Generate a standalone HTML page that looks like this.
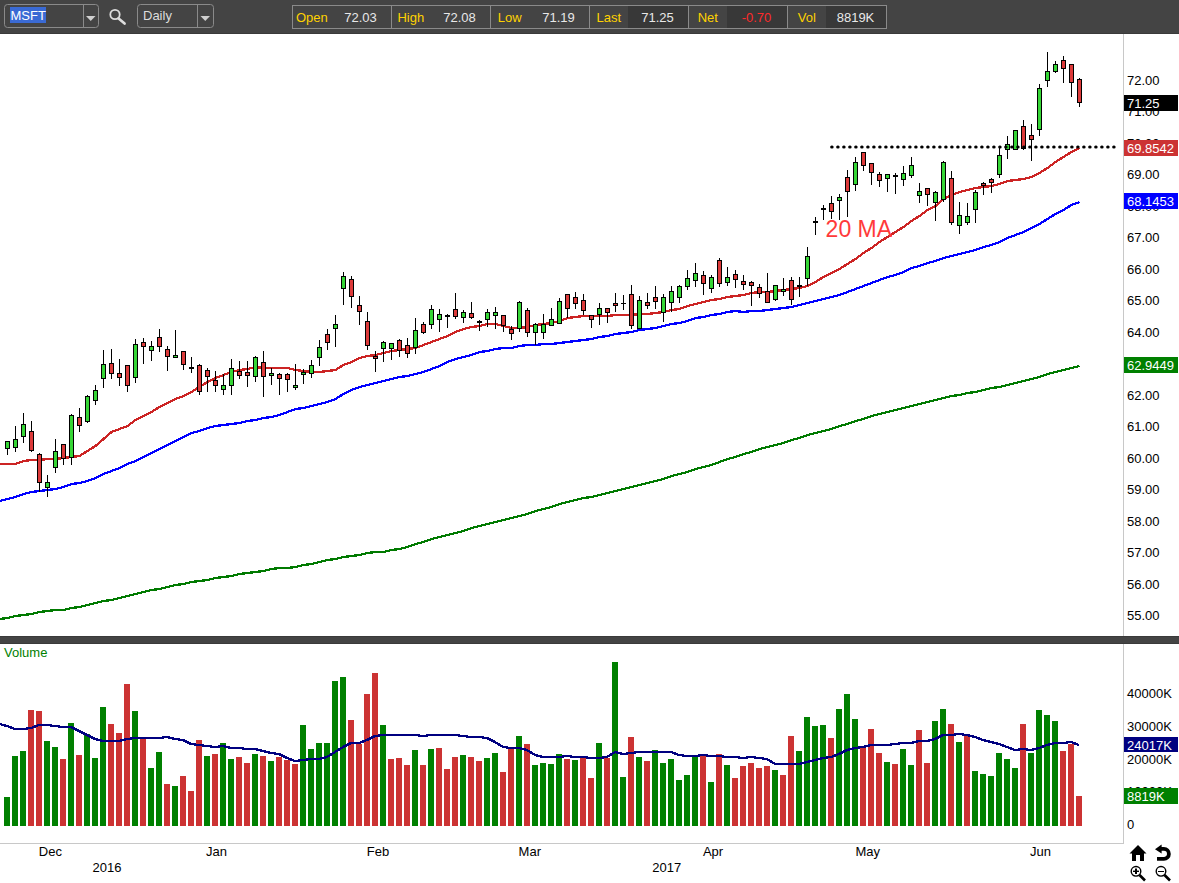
<!DOCTYPE html>
<html><head><meta charset="utf-8"><title>MSFT Daily Chart</title>
<style>
html,body{margin:0;padding:0;background:#fff;}
body{width:1179px;height:883px;overflow:hidden;}
svg text{white-space:pre;}
</style></head><body>
<svg width="1179" height="883" viewBox="0 0 1179 883" style="display:block">
<rect x="0" y="0" width="1179" height="883" fill="#ffffff"/>
<g shape-rendering="crispEdges">
<rect x="0" y="0" width="1179" height="34" fill="#444444"/>
<rect x="0" y="33" width="1179" height="1" fill="#3a3a3a"/>
</g>
<rect x="4.5" y="4.5" width="94" height="23" rx="3" ry="3" fill="none" stroke="#8a8a8a" stroke-width="1"/>
<line x1="83.5" y1="5" x2="83.5" y2="27" stroke="#8a8a8a" stroke-width="1"/>
<polygon points="86,16 95.5,16 90.75,21" fill="#cfcfcf"/>
<rect x="10" y="7" width="36" height="16" fill="#3a6ad4" shape-rendering="crispEdges"/>
<text x="10.5" y="20" font-family="'Liberation Sans', Arial, sans-serif" font-size="13" fill="#ffffff">MSFT</text>
<circle cx="115" cy="14.5" r="4.7" fill="none" stroke="#dddddd" stroke-width="1.8"/>
<line x1="118.6" y1="18.4" x2="124.6" y2="23.6" stroke="#dddddd" stroke-width="2.6" stroke-linecap="round"/>
<rect x="137.5" y="4.5" width="76" height="23" rx="3" ry="3" fill="none" stroke="#8a8a8a" stroke-width="1"/>
<line x1="197.5" y1="5" x2="197.5" y2="27" stroke="#8a8a8a" stroke-width="1"/>
<polygon points="200.5,16 210,16 205.25,21" fill="#cfcfcf"/>
<text x="143" y="20" font-family="'Liberation Sans', Arial, sans-serif" font-size="13" fill="#dddddd">Daily</text>
<g shape-rendering="crispEdges">
<rect x="628" y="6" width="60" height="22" fill="#383838"/>
<rect x="727" y="6" width="60" height="22" fill="#383838"/>
<rect x="826" y="6" width="60" height="22" fill="#383838"/>
<rect x="292.5" y="5.5" width="594" height="23" fill="none" stroke="#8a8a8a"/>
<line x1="391.5" y1="6" x2="391.5" y2="28" stroke="#8a8a8a"/>
<line x1="490.5" y1="6" x2="490.5" y2="28" stroke="#8a8a8a"/>
<line x1="589.5" y1="6" x2="589.5" y2="28" stroke="#8a8a8a"/>
<line x1="688.5" y1="6" x2="688.5" y2="28" stroke="#8a8a8a"/>
<line x1="787.5" y1="6" x2="787.5" y2="28" stroke="#8a8a8a"/>
</g>
<text x="311.8" y="22" text-anchor="middle" font-family="'Liberation Sans', Arial, sans-serif" font-size="13" fill="#ffd200">Open</text>
<text x="360.5" y="22" text-anchor="middle" font-family="'Liberation Sans', Arial, sans-serif" font-size="13" fill="#e8e8e8">72.03</text>
<text x="410.8" y="22" text-anchor="middle" font-family="'Liberation Sans', Arial, sans-serif" font-size="13" fill="#ffd200">High</text>
<text x="459.5" y="22" text-anchor="middle" font-family="'Liberation Sans', Arial, sans-serif" font-size="13" fill="#e8e8e8">72.08</text>
<text x="509.8" y="22" text-anchor="middle" font-family="'Liberation Sans', Arial, sans-serif" font-size="13" fill="#ffd200">Low</text>
<text x="558.5" y="22" text-anchor="middle" font-family="'Liberation Sans', Arial, sans-serif" font-size="13" fill="#e8e8e8">71.19</text>
<text x="608.8" y="22" text-anchor="middle" font-family="'Liberation Sans', Arial, sans-serif" font-size="13" fill="#ffd200">Last</text>
<text x="657.5" y="22" text-anchor="middle" font-family="'Liberation Sans', Arial, sans-serif" font-size="13" fill="#e8e8e8">71.25</text>
<text x="707.8" y="22" text-anchor="middle" font-family="'Liberation Sans', Arial, sans-serif" font-size="13" fill="#ffd200">Net</text>
<text x="756.5" y="22" text-anchor="middle" font-family="'Liberation Sans', Arial, sans-serif" font-size="13" fill="#ff2a2a">-0.70</text>
<text x="806.8" y="22" text-anchor="middle" font-family="'Liberation Sans', Arial, sans-serif" font-size="13" fill="#ffd200">Vol</text>
<text x="855.5" y="22" text-anchor="middle" font-family="'Liberation Sans', Arial, sans-serif" font-size="13" fill="#e8e8e8">8819K</text>
<g shape-rendering="crispEdges">
<rect x="0" y="636" width="1179" height="8" fill="#444444"/>
<rect x="0" y="636" width="1179" height="1" fill="#3a3a3a"/>
<rect x="0" y="643" width="1179" height="1" fill="#3a3a3a"/>
<rect x="1123" y="34" width="1" height="602" fill="#c8c8c8"/>
<rect x="1123" y="644" width="1" height="200" fill="#c8c8c8"/>
<rect x="0" y="843" width="1124" height="1" fill="#c8c8c8"/>
</g>
<text x="1127" y="620.4" font-family="'Liberation Sans', Arial, sans-serif" font-size="13" fill="#000000">55.00</text>
<text x="1127" y="588.9" font-family="'Liberation Sans', Arial, sans-serif" font-size="13" fill="#000000">56.00</text>
<text x="1127" y="557.4" font-family="'Liberation Sans', Arial, sans-serif" font-size="13" fill="#000000">57.00</text>
<text x="1127" y="525.9" font-family="'Liberation Sans', Arial, sans-serif" font-size="13" fill="#000000">58.00</text>
<text x="1127" y="494.4" font-family="'Liberation Sans', Arial, sans-serif" font-size="13" fill="#000000">59.00</text>
<text x="1127" y="462.9" font-family="'Liberation Sans', Arial, sans-serif" font-size="13" fill="#000000">60.00</text>
<text x="1127" y="431.4" font-family="'Liberation Sans', Arial, sans-serif" font-size="13" fill="#000000">61.00</text>
<text x="1127" y="399.9" font-family="'Liberation Sans', Arial, sans-serif" font-size="13" fill="#000000">62.00</text>
<text x="1127" y="368.4" font-family="'Liberation Sans', Arial, sans-serif" font-size="13" fill="#000000">63.00</text>
<text x="1127" y="336.9" font-family="'Liberation Sans', Arial, sans-serif" font-size="13" fill="#000000">64.00</text>
<text x="1127" y="305.4" font-family="'Liberation Sans', Arial, sans-serif" font-size="13" fill="#000000">65.00</text>
<text x="1127" y="273.9" font-family="'Liberation Sans', Arial, sans-serif" font-size="13" fill="#000000">66.00</text>
<text x="1127" y="242.4" font-family="'Liberation Sans', Arial, sans-serif" font-size="13" fill="#000000">67.00</text>
<text x="1127" y="210.9" font-family="'Liberation Sans', Arial, sans-serif" font-size="13" fill="#000000">68.00</text>
<text x="1127" y="179.4" font-family="'Liberation Sans', Arial, sans-serif" font-size="13" fill="#000000">69.00</text>
<text x="1127" y="147.9" font-family="'Liberation Sans', Arial, sans-serif" font-size="13" fill="#000000">70.00</text>
<text x="1127" y="116.4" font-family="'Liberation Sans', Arial, sans-serif" font-size="13" fill="#000000">71.00</text>
<text x="1127" y="84.9" font-family="'Liberation Sans', Arial, sans-serif" font-size="13" fill="#000000">72.00</text>
<polyline points="-0.5,619 7.5,618 15.5,616 23.5,615 31.5,614 39.5,612 47.5,611 55.5,610 63.5,610 71.5,608 79.5,607 87.5,605 95.5,603 103.5,601 111.5,600 119.5,598 127.5,596 135.5,594 143.5,592 151.5,590 159.5,589 167.5,587 175.5,585 183.5,584 191.5,582 199.5,581 207.5,580 215.5,578 223.5,577 231.5,576 239.5,574 247.5,573 255.5,572 263.5,571 271.5,569 279.5,568 287.5,568 295.5,567 303.5,565 311.5,564 319.5,562 327.5,560 335.5,559 343.5,557 351.5,556 359.5,555 367.5,553 375.5,552 383.5,552 391.5,550 399.5,549 407.5,547 415.5,544 423.5,542 431.5,539 439.5,537 447.5,535 455.5,533 463.5,531 471.5,528 479.5,526 487.5,524 495.5,522 503.5,520 511.5,518 519.5,516 527.5,514 535.5,511 543.5,509 551.5,507 559.5,504 567.5,502 575.5,500 583.5,498 591.5,497 599.5,495 607.5,493 615.5,491 623.5,489 631.5,487 639.5,485 647.5,483 655.5,481 663.5,479 671.5,476 679.5,474 687.5,472 695.5,469 703.5,467 711.5,465 719.5,462 727.5,459 735.5,457 743.5,454 751.5,452 759.5,449 767.5,447 775.5,445 783.5,443 791.5,440 799.5,438 807.5,435 815.5,433 823.5,431 831.5,429 839.5,426 847.5,424 855.5,421 863.5,419 871.5,416 879.5,414 887.5,412 895.5,410 903.5,408 911.5,406 919.5,404 927.5,402 935.5,400 943.5,398 951.5,396 959.5,395 967.5,393 975.5,392 983.5,390 991.5,388 999.5,387 1007.5,385 1015.5,383 1023.5,381 1031.5,379 1039.5,377 1047.5,374 1055.5,372 1063.5,370 1071.5,368 1079.5,366" fill="none" stroke="#007a00" stroke-width="2.3" stroke-linejoin="round" shape-rendering="crispEdges"/>
<polyline points="-0.5,501 7.5,499 15.5,497 23.5,494 31.5,492 39.5,491 47.5,490 55.5,489 63.5,487 71.5,484 79.5,483 87.5,481 95.5,478 103.5,474 111.5,471 119.5,468 127.5,464 135.5,461 143.5,457 151.5,453 159.5,449 167.5,445 175.5,441 183.5,437 191.5,433 199.5,431 207.5,428 215.5,426 223.5,425 231.5,424 239.5,423 247.5,421 255.5,420 263.5,418 271.5,417 279.5,415 287.5,412 295.5,409 303.5,408 311.5,406 319.5,404 327.5,402 335.5,399 343.5,394 351.5,390 359.5,387 367.5,385 375.5,383 383.5,381 391.5,379 399.5,377 407.5,376 415.5,374 423.5,372 431.5,369 439.5,366 447.5,362 455.5,359 463.5,357 471.5,355 479.5,352 487.5,351 495.5,349 503.5,348 511.5,348 519.5,346 527.5,345 535.5,345 543.5,344 551.5,344 559.5,343 567.5,342 575.5,341 583.5,340 591.5,339 599.5,337 607.5,336 615.5,334 623.5,333 631.5,332 639.5,330 647.5,329 655.5,328 663.5,326 671.5,324 679.5,323 687.5,321 695.5,318 703.5,317 711.5,315 719.5,314 727.5,312 735.5,311 743.5,312 751.5,311 759.5,311 767.5,310 775.5,309 783.5,308 791.5,307 799.5,305 807.5,303 815.5,301 823.5,299 831.5,297 839.5,295 847.5,292 855.5,289 863.5,286 871.5,283 879.5,280 887.5,277 895.5,275 903.5,272 911.5,268 919.5,266 927.5,263 935.5,261 943.5,258 951.5,256 959.5,254 967.5,252 975.5,250 983.5,247 991.5,245 999.5,242 1007.5,238 1015.5,235 1023.5,232 1031.5,228 1039.5,224 1047.5,219 1055.5,214 1063.5,210 1071.5,205 1079.5,202" fill="none" stroke="#0000ff" stroke-width="2.3" stroke-linejoin="round" shape-rendering="crispEdges"/>
<polyline points="-0.5,464 7.5,464 15.5,464 23.5,461 31.5,460 39.5,460 47.5,459 55.5,459 63.5,458 71.5,457 79.5,456 87.5,451 95.5,446 103.5,439 111.5,432 119.5,429 127.5,426 135.5,420 143.5,416 151.5,412 159.5,407 167.5,403 175.5,399 183.5,396 191.5,392 199.5,387 207.5,382 215.5,378 223.5,375 231.5,372 239.5,370 247.5,369 255.5,367 263.5,368 271.5,368 279.5,368 287.5,368 295.5,370 303.5,371 311.5,372 319.5,372 327.5,371 335.5,370 343.5,365 351.5,362 359.5,358 367.5,356 375.5,355 383.5,353 391.5,351 399.5,350 407.5,349 415.5,348 423.5,345 431.5,342 439.5,339 447.5,336 455.5,332 463.5,329 471.5,327 479.5,326 487.5,324 495.5,324 503.5,326 511.5,328 519.5,328 527.5,327 535.5,325 543.5,324 551.5,323 559.5,321 567.5,318 575.5,317 583.5,316 591.5,316 599.5,316 607.5,316 615.5,315 623.5,315 631.5,315 639.5,314 647.5,314 655.5,313 663.5,312 671.5,310 679.5,309 687.5,306 695.5,304 703.5,302 711.5,300 719.5,299 727.5,297 735.5,296 743.5,295 751.5,293 759.5,292 767.5,292 775.5,291 783.5,290 791.5,289 799.5,288 807.5,286 815.5,282 823.5,277 831.5,273 839.5,269 847.5,264 855.5,259 863.5,253 871.5,248 879.5,242 887.5,237 895.5,232 903.5,227 911.5,221 919.5,216 927.5,210 935.5,206 943.5,199 951.5,195 959.5,192 967.5,190 975.5,188 983.5,187 991.5,186 999.5,184 1007.5,181 1015.5,180 1023.5,179 1031.5,177 1039.5,173 1047.5,168 1055.5,162 1063.5,157 1071.5,152 1079.5,148" fill="none" stroke="#cc2424" stroke-width="2.3" stroke-linejoin="round" shape-rendering="crispEdges"/>
<g shape-rendering="crispEdges">
<rect x="7" y="441" width="1" height="14" fill="#000"/>
<rect x="5" y="441" width="5" height="8" fill="#000"/>
<rect x="6" y="442" width="3" height="6" fill="#36d636"/>
<rect x="15" y="426" width="1" height="26" fill="#000"/>
<rect x="13" y="439" width="5" height="9" fill="#000"/>
<rect x="14" y="440" width="3" height="7" fill="#36d636"/>
<rect x="23" y="413" width="1" height="30" fill="#000"/>
<rect x="21" y="424" width="5" height="13" fill="#000"/>
<rect x="22" y="425" width="3" height="11" fill="#36d636"/>
<rect x="31" y="421" width="1" height="31" fill="#000"/>
<rect x="29" y="431" width="5" height="20" fill="#000"/>
<rect x="30" y="432" width="3" height="18" fill="#dc3a3a"/>
<rect x="39" y="453" width="1" height="39" fill="#000"/>
<rect x="37" y="454" width="5" height="29" fill="#000"/>
<rect x="38" y="455" width="3" height="27" fill="#dc3a3a"/>
<rect x="47" y="475" width="1" height="22" fill="#000"/>
<rect x="45" y="482" width="5" height="6" fill="#000"/>
<rect x="46" y="483" width="3" height="4" fill="#36d636"/>
<rect x="55" y="439" width="1" height="34" fill="#000"/>
<rect x="53" y="451" width="5" height="17" fill="#000"/>
<rect x="54" y="452" width="3" height="15" fill="#36d636"/>
<rect x="63" y="444" width="1" height="21" fill="#000"/>
<rect x="61" y="444" width="5" height="15" fill="#000"/>
<rect x="62" y="445" width="3" height="13" fill="#dc3a3a"/>
<rect x="71" y="414" width="1" height="51" fill="#000"/>
<rect x="69" y="415" width="5" height="43" fill="#000"/>
<rect x="70" y="416" width="3" height="41" fill="#36d636"/>
<rect x="79" y="408" width="1" height="24" fill="#000"/>
<rect x="77" y="417" width="5" height="9" fill="#000"/>
<rect x="78" y="418" width="3" height="7" fill="#dc3a3a"/>
<rect x="87" y="395" width="1" height="28" fill="#000"/>
<rect x="85" y="396" width="5" height="26" fill="#000"/>
<rect x="86" y="397" width="3" height="24" fill="#36d636"/>
<rect x="95" y="385" width="1" height="20" fill="#000"/>
<rect x="93" y="390" width="5" height="11" fill="#000"/>
<rect x="94" y="391" width="3" height="9" fill="#36d636"/>
<rect x="103" y="350" width="1" height="38" fill="#000"/>
<rect x="101" y="364" width="5" height="15" fill="#000"/>
<rect x="102" y="365" width="3" height="13" fill="#36d636"/>
<rect x="111" y="349" width="1" height="30" fill="#000"/>
<rect x="109" y="363" width="5" height="11" fill="#000"/>
<rect x="110" y="364" width="3" height="9" fill="#dc3a3a"/>
<rect x="119" y="359" width="1" height="27" fill="#000"/>
<rect x="117" y="373" width="5" height="5" fill="#000"/>
<rect x="118" y="374" width="3" height="3" fill="#dc3a3a"/>
<rect x="127" y="365" width="1" height="27" fill="#000"/>
<rect x="125" y="365" width="5" height="21" fill="#000"/>
<rect x="126" y="366" width="3" height="19" fill="#dc3a3a"/>
<rect x="135" y="339" width="1" height="44" fill="#000"/>
<rect x="133" y="344" width="5" height="34" fill="#000"/>
<rect x="134" y="345" width="3" height="32" fill="#36d636"/>
<rect x="143" y="338" width="1" height="26" fill="#000"/>
<rect x="141" y="342" width="5" height="5" fill="#000"/>
<rect x="142" y="343" width="3" height="3" fill="#dc3a3a"/>
<rect x="151" y="341" width="1" height="20" fill="#000"/>
<rect x="149" y="346" width="5" height="5" fill="#000"/>
<rect x="150" y="347" width="3" height="3" fill="#36d636"/>
<rect x="159" y="329" width="1" height="23" fill="#000"/>
<rect x="157" y="337" width="5" height="10" fill="#000"/>
<rect x="158" y="338" width="3" height="8" fill="#dc3a3a"/>
<rect x="167" y="346" width="1" height="25" fill="#000"/>
<rect x="165" y="349" width="5" height="8" fill="#000"/>
<rect x="166" y="350" width="3" height="6" fill="#dc3a3a"/>
<rect x="175" y="330" width="1" height="28" fill="#000"/>
<rect x="173" y="355" width="5" height="3" fill="#000"/>
<rect x="174" y="356" width="3" height="1" fill="#36d636"/>
<rect x="183" y="351" width="1" height="19" fill="#000"/>
<rect x="181" y="351" width="5" height="14" fill="#000"/>
<rect x="182" y="352" width="3" height="12" fill="#dc3a3a"/>
<rect x="191" y="357" width="1" height="16" fill="#000"/>
<rect x="189" y="367" width="5" height="2" fill="#000"/>
<rect x="199" y="364" width="1" height="31" fill="#000"/>
<rect x="197" y="365" width="5" height="27" fill="#000"/>
<rect x="198" y="366" width="3" height="25" fill="#dc3a3a"/>
<rect x="207" y="368" width="1" height="24" fill="#000"/>
<rect x="205" y="370" width="5" height="7" fill="#000"/>
<rect x="206" y="371" width="3" height="5" fill="#dc3a3a"/>
<rect x="215" y="371" width="1" height="21" fill="#000"/>
<rect x="213" y="380" width="5" height="6" fill="#000"/>
<rect x="214" y="381" width="3" height="4" fill="#dc3a3a"/>
<rect x="223" y="374" width="1" height="21" fill="#000"/>
<rect x="221" y="385" width="5" height="5" fill="#000"/>
<rect x="222" y="386" width="3" height="3" fill="#36d636"/>
<rect x="231" y="359" width="1" height="36" fill="#000"/>
<rect x="229" y="368" width="5" height="18" fill="#000"/>
<rect x="230" y="369" width="3" height="16" fill="#36d636"/>
<rect x="239" y="361" width="1" height="18" fill="#000"/>
<rect x="237" y="371" width="5" height="5" fill="#000"/>
<rect x="238" y="372" width="3" height="3" fill="#dc3a3a"/>
<rect x="247" y="361" width="1" height="26" fill="#000"/>
<rect x="245" y="372" width="5" height="4" fill="#000"/>
<rect x="246" y="373" width="3" height="2" fill="#dc3a3a"/>
<rect x="255" y="356" width="1" height="26" fill="#000"/>
<rect x="253" y="357" width="5" height="20" fill="#000"/>
<rect x="254" y="358" width="3" height="18" fill="#36d636"/>
<rect x="263" y="351" width="1" height="46" fill="#000"/>
<rect x="261" y="362" width="5" height="15" fill="#000"/>
<rect x="262" y="363" width="3" height="13" fill="#dc3a3a"/>
<rect x="271" y="368" width="1" height="17" fill="#000"/>
<rect x="269" y="373" width="5" height="3" fill="#000"/>
<rect x="270" y="374" width="3" height="1" fill="#36d636"/>
<rect x="279" y="373" width="1" height="22" fill="#000"/>
<rect x="277" y="374" width="5" height="5" fill="#000"/>
<rect x="278" y="375" width="3" height="3" fill="#dc3a3a"/>
<rect x="287" y="373" width="1" height="19" fill="#000"/>
<rect x="285" y="374" width="5" height="6" fill="#000"/>
<rect x="286" y="375" width="3" height="4" fill="#dc3a3a"/>
<rect x="295" y="364" width="1" height="26" fill="#000"/>
<rect x="293" y="385" width="5" height="3" fill="#000"/>
<rect x="294" y="386" width="3" height="1" fill="#36d636"/>
<rect x="303" y="369" width="1" height="15" fill="#000"/>
<rect x="301" y="372" width="5" height="3" fill="#000"/>
<rect x="302" y="373" width="3" height="1" fill="#36d636"/>
<rect x="311" y="360" width="1" height="18" fill="#000"/>
<rect x="309" y="365" width="5" height="9" fill="#000"/>
<rect x="310" y="366" width="3" height="7" fill="#36d636"/>
<rect x="319" y="340" width="1" height="26" fill="#000"/>
<rect x="317" y="347" width="5" height="11" fill="#000"/>
<rect x="318" y="348" width="3" height="9" fill="#36d636"/>
<rect x="327" y="329" width="1" height="21" fill="#000"/>
<rect x="325" y="334" width="5" height="9" fill="#000"/>
<rect x="326" y="335" width="3" height="7" fill="#dc3a3a"/>
<rect x="335" y="315" width="1" height="32" fill="#000"/>
<rect x="333" y="324" width="5" height="5" fill="#000"/>
<rect x="334" y="325" width="3" height="3" fill="#36d636"/>
<rect x="343" y="272" width="1" height="33" fill="#000"/>
<rect x="341" y="276" width="5" height="13" fill="#000"/>
<rect x="342" y="277" width="3" height="11" fill="#36d636"/>
<rect x="351" y="276" width="1" height="32" fill="#000"/>
<rect x="349" y="279" width="5" height="18" fill="#000"/>
<rect x="350" y="280" width="3" height="16" fill="#dc3a3a"/>
<rect x="359" y="296" width="1" height="29" fill="#000"/>
<rect x="357" y="305" width="5" height="7" fill="#000"/>
<rect x="358" y="306" width="3" height="5" fill="#dc3a3a"/>
<rect x="367" y="312" width="1" height="38" fill="#000"/>
<rect x="365" y="321" width="5" height="25" fill="#000"/>
<rect x="366" y="322" width="3" height="23" fill="#dc3a3a"/>
<rect x="375" y="351" width="1" height="21" fill="#000"/>
<rect x="373" y="356" width="5" height="3" fill="#000"/>
<rect x="374" y="357" width="3" height="1" fill="#dc3a3a"/>
<rect x="383" y="341" width="1" height="21" fill="#000"/>
<rect x="381" y="342" width="5" height="7" fill="#000"/>
<rect x="382" y="343" width="3" height="5" fill="#36d636"/>
<rect x="391" y="343" width="1" height="17" fill="#000"/>
<rect x="389" y="343" width="5" height="6" fill="#000"/>
<rect x="390" y="344" width="3" height="4" fill="#36d636"/>
<rect x="399" y="339" width="1" height="18" fill="#000"/>
<rect x="397" y="340" width="5" height="11" fill="#000"/>
<rect x="398" y="341" width="3" height="9" fill="#dc3a3a"/>
<rect x="407" y="338" width="1" height="20" fill="#000"/>
<rect x="405" y="345" width="5" height="9" fill="#000"/>
<rect x="406" y="346" width="3" height="7" fill="#dc3a3a"/>
<rect x="415" y="318" width="1" height="36" fill="#000"/>
<rect x="413" y="330" width="5" height="18" fill="#000"/>
<rect x="414" y="331" width="3" height="16" fill="#36d636"/>
<rect x="423" y="322" width="1" height="12" fill="#000"/>
<rect x="421" y="324" width="5" height="9" fill="#000"/>
<rect x="422" y="325" width="3" height="7" fill="#dc3a3a"/>
<rect x="431" y="305" width="1" height="24" fill="#000"/>
<rect x="429" y="309" width="5" height="16" fill="#000"/>
<rect x="430" y="310" width="3" height="14" fill="#36d636"/>
<rect x="439" y="309" width="1" height="23" fill="#000"/>
<rect x="437" y="314" width="5" height="6" fill="#000"/>
<rect x="438" y="315" width="3" height="4" fill="#36d636"/>
<rect x="447" y="314" width="1" height="14" fill="#000"/>
<rect x="445" y="315" width="5" height="2" fill="#000"/>
<rect x="455" y="293" width="1" height="26" fill="#000"/>
<rect x="453" y="309" width="5" height="8" fill="#000"/>
<rect x="454" y="310" width="3" height="6" fill="#dc3a3a"/>
<rect x="463" y="310" width="1" height="13" fill="#000"/>
<rect x="461" y="312" width="5" height="6" fill="#000"/>
<rect x="462" y="313" width="3" height="4" fill="#36d636"/>
<rect x="471" y="302" width="1" height="17" fill="#000"/>
<rect x="469" y="313" width="5" height="5" fill="#000"/>
<rect x="470" y="314" width="3" height="3" fill="#dc3a3a"/>
<rect x="479" y="320" width="1" height="11" fill="#000"/>
<rect x="477" y="321" width="5" height="2" fill="#000"/>
<rect x="487" y="309" width="1" height="18" fill="#000"/>
<rect x="485" y="312" width="5" height="8" fill="#000"/>
<rect x="486" y="313" width="3" height="6" fill="#36d636"/>
<rect x="495" y="307" width="1" height="22" fill="#000"/>
<rect x="493" y="312" width="5" height="4" fill="#000"/>
<rect x="494" y="313" width="3" height="2" fill="#36d636"/>
<rect x="503" y="315" width="1" height="17" fill="#000"/>
<rect x="501" y="315" width="5" height="11" fill="#000"/>
<rect x="502" y="316" width="3" height="9" fill="#dc3a3a"/>
<rect x="511" y="326" width="1" height="14" fill="#000"/>
<rect x="509" y="329" width="5" height="5" fill="#000"/>
<rect x="510" y="330" width="3" height="3" fill="#dc3a3a"/>
<rect x="519" y="301" width="1" height="31" fill="#000"/>
<rect x="517" y="302" width="5" height="27" fill="#000"/>
<rect x="518" y="303" width="3" height="25" fill="#36d636"/>
<rect x="527" y="308" width="1" height="29" fill="#000"/>
<rect x="525" y="310" width="5" height="23" fill="#000"/>
<rect x="526" y="311" width="3" height="21" fill="#dc3a3a"/>
<rect x="535" y="323" width="1" height="22" fill="#000"/>
<rect x="533" y="324" width="5" height="9" fill="#000"/>
<rect x="534" y="325" width="3" height="7" fill="#36d636"/>
<rect x="543" y="314" width="1" height="25" fill="#000"/>
<rect x="541" y="324" width="5" height="9" fill="#000"/>
<rect x="542" y="325" width="3" height="7" fill="#36d636"/>
<rect x="551" y="308" width="1" height="18" fill="#000"/>
<rect x="549" y="319" width="5" height="7" fill="#000"/>
<rect x="550" y="320" width="3" height="5" fill="#36d636"/>
<rect x="559" y="298" width="1" height="26" fill="#000"/>
<rect x="557" y="301" width="5" height="23" fill="#000"/>
<rect x="558" y="302" width="3" height="21" fill="#36d636"/>
<rect x="567" y="294" width="1" height="24" fill="#000"/>
<rect x="565" y="294" width="5" height="15" fill="#000"/>
<rect x="566" y="295" width="3" height="13" fill="#dc3a3a"/>
<rect x="575" y="292" width="1" height="17" fill="#000"/>
<rect x="573" y="297" width="5" height="7" fill="#000"/>
<rect x="574" y="298" width="3" height="5" fill="#dc3a3a"/>
<rect x="583" y="294" width="1" height="21" fill="#000"/>
<rect x="581" y="300" width="5" height="11" fill="#000"/>
<rect x="582" y="301" width="3" height="9" fill="#dc3a3a"/>
<rect x="591" y="315" width="1" height="13" fill="#000"/>
<rect x="589" y="315" width="5" height="5" fill="#000"/>
<rect x="590" y="316" width="3" height="3" fill="#dc3a3a"/>
<rect x="599" y="303" width="1" height="22" fill="#000"/>
<rect x="597" y="308" width="5" height="7" fill="#000"/>
<rect x="598" y="309" width="3" height="5" fill="#36d636"/>
<rect x="607" y="308" width="1" height="15" fill="#000"/>
<rect x="605" y="308" width="5" height="5" fill="#000"/>
<rect x="606" y="309" width="3" height="3" fill="#dc3a3a"/>
<rect x="615" y="293" width="1" height="19" fill="#000"/>
<rect x="613" y="303" width="5" height="3" fill="#000"/>
<rect x="614" y="304" width="3" height="1" fill="#dc3a3a"/>
<rect x="623" y="295" width="1" height="15" fill="#000"/>
<rect x="621" y="303" width="5" height="1" fill="#000"/>
<rect x="631" y="285" width="1" height="44" fill="#000"/>
<rect x="629" y="294" width="5" height="32" fill="#000"/>
<rect x="630" y="295" width="3" height="30" fill="#dc3a3a"/>
<rect x="639" y="296" width="1" height="33" fill="#000"/>
<rect x="637" y="300" width="5" height="29" fill="#000"/>
<rect x="638" y="301" width="3" height="27" fill="#36d636"/>
<rect x="647" y="293" width="1" height="16" fill="#000"/>
<rect x="645" y="302" width="5" height="4" fill="#000"/>
<rect x="646" y="303" width="3" height="2" fill="#dc3a3a"/>
<rect x="655" y="286" width="1" height="23" fill="#000"/>
<rect x="653" y="297" width="5" height="5" fill="#000"/>
<rect x="654" y="298" width="3" height="3" fill="#dc3a3a"/>
<rect x="663" y="294" width="1" height="28" fill="#000"/>
<rect x="661" y="297" width="5" height="16" fill="#000"/>
<rect x="662" y="298" width="3" height="14" fill="#36d636"/>
<rect x="671" y="286" width="1" height="26" fill="#000"/>
<rect x="669" y="291" width="5" height="12" fill="#000"/>
<rect x="670" y="292" width="3" height="10" fill="#36d636"/>
<rect x="679" y="285" width="1" height="18" fill="#000"/>
<rect x="677" y="286" width="5" height="12" fill="#000"/>
<rect x="678" y="287" width="3" height="10" fill="#36d636"/>
<rect x="687" y="270" width="1" height="20" fill="#000"/>
<rect x="685" y="278" width="5" height="9" fill="#000"/>
<rect x="686" y="279" width="3" height="7" fill="#36d636"/>
<rect x="695" y="263" width="1" height="24" fill="#000"/>
<rect x="693" y="273" width="5" height="8" fill="#000"/>
<rect x="694" y="274" width="3" height="6" fill="#36d636"/>
<rect x="703" y="271" width="1" height="24" fill="#000"/>
<rect x="701" y="275" width="5" height="9" fill="#000"/>
<rect x="702" y="276" width="3" height="7" fill="#dc3a3a"/>
<rect x="711" y="275" width="1" height="18" fill="#000"/>
<rect x="709" y="277" width="5" height="12" fill="#000"/>
<rect x="710" y="278" width="3" height="10" fill="#36d636"/>
<rect x="719" y="258" width="1" height="29" fill="#000"/>
<rect x="717" y="260" width="5" height="24" fill="#000"/>
<rect x="718" y="261" width="3" height="22" fill="#dc3a3a"/>
<rect x="727" y="267" width="1" height="19" fill="#000"/>
<rect x="725" y="277" width="5" height="6" fill="#000"/>
<rect x="726" y="278" width="3" height="4" fill="#36d636"/>
<rect x="735" y="270" width="1" height="18" fill="#000"/>
<rect x="733" y="274" width="5" height="6" fill="#000"/>
<rect x="734" y="275" width="3" height="4" fill="#dc3a3a"/>
<rect x="743" y="275" width="1" height="15" fill="#000"/>
<rect x="741" y="281" width="5" height="4" fill="#000"/>
<rect x="742" y="282" width="3" height="2" fill="#dc3a3a"/>
<rect x="751" y="281" width="1" height="25" fill="#000"/>
<rect x="749" y="282" width="5" height="4" fill="#000"/>
<rect x="750" y="283" width="3" height="2" fill="#dc3a3a"/>
<rect x="759" y="284" width="1" height="14" fill="#000"/>
<rect x="757" y="287" width="5" height="7" fill="#000"/>
<rect x="758" y="288" width="3" height="5" fill="#dc3a3a"/>
<rect x="767" y="273" width="1" height="30" fill="#000"/>
<rect x="765" y="291" width="5" height="12" fill="#000"/>
<rect x="766" y="292" width="3" height="10" fill="#dc3a3a"/>
<rect x="775" y="285" width="1" height="16" fill="#000"/>
<rect x="773" y="285" width="5" height="15" fill="#000"/>
<rect x="774" y="286" width="3" height="13" fill="#36d636"/>
<rect x="783" y="278" width="1" height="18" fill="#000"/>
<rect x="781" y="289" width="5" height="3" fill="#000"/>
<rect x="782" y="290" width="3" height="1" fill="#36d636"/>
<rect x="791" y="277" width="1" height="28" fill="#000"/>
<rect x="789" y="280" width="5" height="20" fill="#000"/>
<rect x="790" y="281" width="3" height="18" fill="#dc3a3a"/>
<rect x="799" y="277" width="1" height="20" fill="#000"/>
<rect x="797" y="285" width="5" height="2" fill="#000"/>
<rect x="807" y="247" width="1" height="39" fill="#000"/>
<rect x="805" y="256" width="5" height="23" fill="#000"/>
<rect x="806" y="257" width="3" height="21" fill="#36d636"/>
<rect x="815" y="217" width="1" height="18" fill="#000"/>
<rect x="813" y="221" width="5" height="2" fill="#000"/>
<rect x="823" y="205" width="1" height="15" fill="#000"/>
<rect x="821" y="208" width="5" height="2" fill="#000"/>
<rect x="831" y="196" width="1" height="23" fill="#000"/>
<rect x="829" y="203" width="5" height="9" fill="#000"/>
<rect x="830" y="204" width="3" height="7" fill="#dc3a3a"/>
<rect x="839" y="194" width="1" height="26" fill="#000"/>
<rect x="837" y="197" width="5" height="4" fill="#000"/>
<rect x="838" y="198" width="3" height="2" fill="#36d636"/>
<rect x="847" y="170" width="1" height="47" fill="#000"/>
<rect x="845" y="177" width="5" height="15" fill="#000"/>
<rect x="846" y="178" width="3" height="13" fill="#dc3a3a"/>
<rect x="855" y="157" width="1" height="34" fill="#000"/>
<rect x="853" y="162" width="5" height="23" fill="#000"/>
<rect x="854" y="163" width="3" height="21" fill="#36d636"/>
<rect x="863" y="152" width="1" height="19" fill="#000"/>
<rect x="861" y="152" width="5" height="14" fill="#000"/>
<rect x="862" y="153" width="3" height="12" fill="#dc3a3a"/>
<rect x="871" y="163" width="1" height="22" fill="#000"/>
<rect x="869" y="163" width="5" height="10" fill="#000"/>
<rect x="870" y="164" width="3" height="8" fill="#dc3a3a"/>
<rect x="879" y="172" width="1" height="15" fill="#000"/>
<rect x="877" y="174" width="5" height="7" fill="#000"/>
<rect x="878" y="175" width="3" height="5" fill="#dc3a3a"/>
<rect x="887" y="174" width="1" height="18" fill="#000"/>
<rect x="885" y="174" width="5" height="5" fill="#000"/>
<rect x="886" y="175" width="3" height="3" fill="#36d636"/>
<rect x="895" y="173" width="1" height="21" fill="#000"/>
<rect x="893" y="175" width="5" height="2" fill="#000"/>
<rect x="903" y="166" width="1" height="20" fill="#000"/>
<rect x="901" y="173" width="5" height="7" fill="#000"/>
<rect x="902" y="174" width="3" height="5" fill="#36d636"/>
<rect x="911" y="157" width="1" height="21" fill="#000"/>
<rect x="909" y="165" width="5" height="11" fill="#000"/>
<rect x="910" y="166" width="3" height="9" fill="#36d636"/>
<rect x="919" y="183" width="1" height="20" fill="#000"/>
<rect x="917" y="191" width="5" height="5" fill="#000"/>
<rect x="918" y="192" width="3" height="3" fill="#36d636"/>
<rect x="927" y="188" width="1" height="18" fill="#000"/>
<rect x="925" y="188" width="5" height="7" fill="#000"/>
<rect x="926" y="189" width="3" height="5" fill="#dc3a3a"/>
<rect x="935" y="191" width="1" height="30" fill="#000"/>
<rect x="933" y="192" width="5" height="11" fill="#000"/>
<rect x="934" y="193" width="3" height="9" fill="#36d636"/>
<rect x="943" y="161" width="1" height="41" fill="#000"/>
<rect x="941" y="162" width="5" height="38" fill="#000"/>
<rect x="942" y="163" width="3" height="36" fill="#36d636"/>
<rect x="951" y="171" width="1" height="54" fill="#000"/>
<rect x="949" y="178" width="5" height="45" fill="#000"/>
<rect x="950" y="179" width="3" height="43" fill="#dc3a3a"/>
<rect x="959" y="202" width="1" height="32" fill="#000"/>
<rect x="957" y="215" width="5" height="11" fill="#000"/>
<rect x="958" y="216" width="3" height="9" fill="#36d636"/>
<rect x="967" y="203" width="1" height="22" fill="#000"/>
<rect x="965" y="216" width="5" height="7" fill="#000"/>
<rect x="966" y="217" width="3" height="5" fill="#36d636"/>
<rect x="975" y="190" width="1" height="33" fill="#000"/>
<rect x="973" y="192" width="5" height="18" fill="#000"/>
<rect x="974" y="193" width="3" height="16" fill="#36d636"/>
<rect x="983" y="182" width="1" height="13" fill="#000"/>
<rect x="981" y="183" width="5" height="3" fill="#000"/>
<rect x="982" y="184" width="3" height="1" fill="#dc3a3a"/>
<rect x="991" y="178" width="1" height="15" fill="#000"/>
<rect x="989" y="179" width="5" height="4" fill="#000"/>
<rect x="990" y="180" width="3" height="2" fill="#dc3a3a"/>
<rect x="999" y="147" width="1" height="31" fill="#000"/>
<rect x="997" y="155" width="5" height="20" fill="#000"/>
<rect x="998" y="156" width="3" height="18" fill="#36d636"/>
<rect x="1007" y="136" width="1" height="23" fill="#000"/>
<rect x="1005" y="144" width="5" height="6" fill="#000"/>
<rect x="1006" y="145" width="3" height="4" fill="#36d636"/>
<rect x="1015" y="130" width="1" height="20" fill="#000"/>
<rect x="1013" y="130" width="5" height="20" fill="#000"/>
<rect x="1014" y="131" width="3" height="18" fill="#36d636"/>
<rect x="1023" y="120" width="1" height="30" fill="#000"/>
<rect x="1021" y="126" width="5" height="23" fill="#000"/>
<rect x="1022" y="127" width="3" height="21" fill="#dc3a3a"/>
<rect x="1031" y="124" width="1" height="37" fill="#000"/>
<rect x="1029" y="135" width="5" height="5" fill="#000"/>
<rect x="1030" y="136" width="3" height="3" fill="#dc3a3a"/>
<rect x="1039" y="84" width="1" height="52" fill="#000"/>
<rect x="1037" y="88" width="5" height="42" fill="#000"/>
<rect x="1038" y="89" width="3" height="40" fill="#36d636"/>
<rect x="1047" y="52" width="1" height="35" fill="#000"/>
<rect x="1045" y="71" width="5" height="10" fill="#000"/>
<rect x="1046" y="72" width="3" height="8" fill="#36d636"/>
<rect x="1055" y="61" width="1" height="12" fill="#000"/>
<rect x="1053" y="64" width="5" height="8" fill="#000"/>
<rect x="1054" y="65" width="3" height="6" fill="#36d636"/>
<rect x="1063" y="56" width="1" height="27" fill="#000"/>
<rect x="1061" y="60" width="5" height="9" fill="#000"/>
<rect x="1062" y="61" width="3" height="7" fill="#dc3a3a"/>
<rect x="1071" y="64" width="1" height="33" fill="#000"/>
<rect x="1069" y="64" width="5" height="19" fill="#000"/>
<rect x="1070" y="65" width="3" height="17" fill="#dc3a3a"/>
<rect x="1079" y="78" width="1" height="29" fill="#000"/>
<rect x="1077" y="79" width="5" height="24" fill="#000"/>
<rect x="1078" y="80" width="3" height="22" fill="#dc3a3a"/>
</g>
<line x1="831.7" y1="147" x2="1116" y2="147" stroke="#000" stroke-width="3.1" stroke-linecap="round" stroke-dasharray="0.4 5.6"/>
<text x="825.6" y="236.6" font-family="'Liberation Sans', Arial, sans-serif" font-size="23" fill="#ff3a3a">20 MA</text>
<rect x="1124" y="95" width="54" height="16" fill="#000000" shape-rendering="crispEdges"/>
<text x="1127" y="107.7" font-family="'Liberation Sans', Arial, sans-serif" font-size="13" fill="#ffffff">71.25</text>
<rect x="1124" y="140" width="54" height="16" fill="#cc3333" shape-rendering="crispEdges"/>
<text x="1127" y="152.7" font-family="'Liberation Sans', Arial, sans-serif" font-size="13" fill="#ffffff">69.8542</text>
<rect x="1124" y="193" width="54" height="16" fill="#0000ff" shape-rendering="crispEdges"/>
<text x="1127" y="205.7" font-family="'Liberation Sans', Arial, sans-serif" font-size="13" fill="#ffffff">68.1453</text>
<rect x="1124" y="357" width="54" height="16" fill="#008000" shape-rendering="crispEdges"/>
<text x="1127" y="369.7" font-family="'Liberation Sans', Arial, sans-serif" font-size="13" fill="#ffffff">62.9449</text>
<text x="4" y="657" font-family="'Liberation Sans', Arial, sans-serif" font-size="13" fill="#008000">Volume</text>
<g shape-rendering="crispEdges">
<rect x="4" y="797" width="6" height="29" fill="#008000"/>
<rect x="12" y="756" width="6" height="70" fill="#008000"/>
<rect x="20" y="751" width="6" height="75" fill="#008000"/>
<rect x="28" y="710" width="6" height="116" fill="#cc3333"/>
<rect x="36" y="711" width="6" height="115" fill="#cc3333"/>
<rect x="44" y="741" width="6" height="85" fill="#008000"/>
<rect x="52" y="747" width="6" height="79" fill="#008000"/>
<rect x="60" y="759" width="6" height="67" fill="#cc3333"/>
<rect x="68" y="723" width="6" height="103" fill="#008000"/>
<rect x="76" y="755" width="6" height="71" fill="#cc3333"/>
<rect x="84" y="734" width="6" height="92" fill="#008000"/>
<rect x="92" y="758" width="6" height="68" fill="#008000"/>
<rect x="100" y="707" width="6" height="119" fill="#008000"/>
<rect x="108" y="724" width="6" height="102" fill="#cc3333"/>
<rect x="116" y="733" width="6" height="93" fill="#cc3333"/>
<rect x="124" y="684" width="6" height="142" fill="#cc3333"/>
<rect x="132" y="711" width="6" height="115" fill="#008000"/>
<rect x="140" y="738" width="6" height="88" fill="#cc3333"/>
<rect x="148" y="768" width="6" height="58" fill="#008000"/>
<rect x="156" y="752" width="6" height="74" fill="#008000"/>
<rect x="164" y="784" width="6" height="42" fill="#cc3333"/>
<rect x="172" y="786" width="6" height="40" fill="#008000"/>
<rect x="180" y="776" width="6" height="50" fill="#cc3333"/>
<rect x="188" y="791" width="6" height="35" fill="#cc3333"/>
<rect x="196" y="740" width="6" height="86" fill="#cc3333"/>
<rect x="204" y="756" width="6" height="70" fill="#008000"/>
<rect x="212" y="754" width="6" height="72" fill="#cc3333"/>
<rect x="220" y="743" width="6" height="83" fill="#008000"/>
<rect x="228" y="759" width="6" height="67" fill="#008000"/>
<rect x="236" y="757" width="6" height="69" fill="#cc3333"/>
<rect x="244" y="763" width="6" height="63" fill="#cc3333"/>
<rect x="252" y="754" width="6" height="72" fill="#008000"/>
<rect x="260" y="756" width="6" height="70" fill="#cc3333"/>
<rect x="268" y="761" width="6" height="65" fill="#008000"/>
<rect x="276" y="757" width="6" height="69" fill="#cc3333"/>
<rect x="284" y="760" width="6" height="66" fill="#cc3333"/>
<rect x="292" y="764" width="6" height="62" fill="#cc3333"/>
<rect x="300" y="725" width="6" height="101" fill="#008000"/>
<rect x="308" y="749" width="6" height="77" fill="#008000"/>
<rect x="316" y="743" width="6" height="83" fill="#008000"/>
<rect x="324" y="743" width="6" height="83" fill="#008000"/>
<rect x="332" y="681" width="6" height="145" fill="#008000"/>
<rect x="340" y="677" width="6" height="149" fill="#008000"/>
<rect x="348" y="720" width="6" height="106" fill="#cc3333"/>
<rect x="356" y="744" width="6" height="82" fill="#cc3333"/>
<rect x="364" y="694" width="6" height="132" fill="#cc3333"/>
<rect x="372" y="673" width="6" height="153" fill="#cc3333"/>
<rect x="380" y="725" width="6" height="101" fill="#008000"/>
<rect x="388" y="759" width="6" height="67" fill="#cc3333"/>
<rect x="396" y="758" width="6" height="68" fill="#cc3333"/>
<rect x="404" y="765" width="6" height="61" fill="#cc3333"/>
<rect x="412" y="750" width="6" height="76" fill="#008000"/>
<rect x="420" y="765" width="6" height="61" fill="#cc3333"/>
<rect x="428" y="749" width="6" height="77" fill="#008000"/>
<rect x="436" y="748" width="6" height="78" fill="#cc3333"/>
<rect x="444" y="769" width="6" height="57" fill="#cc3333"/>
<rect x="452" y="757" width="6" height="69" fill="#cc3333"/>
<rect x="460" y="755" width="6" height="71" fill="#008000"/>
<rect x="468" y="757" width="6" height="69" fill="#cc3333"/>
<rect x="476" y="761" width="6" height="65" fill="#cc3333"/>
<rect x="484" y="758" width="6" height="68" fill="#008000"/>
<rect x="492" y="753" width="6" height="73" fill="#008000"/>
<rect x="500" y="772" width="6" height="54" fill="#cc3333"/>
<rect x="508" y="749" width="6" height="77" fill="#cc3333"/>
<rect x="516" y="736" width="6" height="90" fill="#008000"/>
<rect x="524" y="744" width="6" height="82" fill="#cc3333"/>
<rect x="532" y="765" width="6" height="61" fill="#008000"/>
<rect x="540" y="763" width="6" height="63" fill="#008000"/>
<rect x="548" y="764" width="6" height="62" fill="#008000"/>
<rect x="556" y="754" width="6" height="72" fill="#008000"/>
<rect x="564" y="759" width="6" height="67" fill="#cc3333"/>
<rect x="572" y="760" width="6" height="66" fill="#008000"/>
<rect x="580" y="758" width="6" height="68" fill="#cc3333"/>
<rect x="588" y="778" width="6" height="48" fill="#cc3333"/>
<rect x="596" y="743" width="6" height="83" fill="#008000"/>
<rect x="604" y="758" width="6" height="68" fill="#cc3333"/>
<rect x="612" y="662" width="6" height="164" fill="#008000"/>
<rect x="620" y="777" width="6" height="49" fill="#008000"/>
<rect x="628" y="737" width="6" height="89" fill="#cc3333"/>
<rect x="636" y="757" width="6" height="69" fill="#008000"/>
<rect x="644" y="761" width="6" height="65" fill="#cc3333"/>
<rect x="652" y="750" width="6" height="76" fill="#008000"/>
<rect x="660" y="763" width="6" height="63" fill="#008000"/>
<rect x="668" y="759" width="6" height="67" fill="#008000"/>
<rect x="676" y="780" width="6" height="46" fill="#008000"/>
<rect x="684" y="775" width="6" height="51" fill="#008000"/>
<rect x="692" y="756" width="6" height="70" fill="#008000"/>
<rect x="700" y="756" width="6" height="70" fill="#cc3333"/>
<rect x="708" y="782" width="6" height="44" fill="#008000"/>
<rect x="716" y="754" width="6" height="72" fill="#cc3333"/>
<rect x="724" y="765" width="6" height="61" fill="#008000"/>
<rect x="732" y="778" width="6" height="48" fill="#cc3333"/>
<rect x="740" y="766" width="6" height="60" fill="#cc3333"/>
<rect x="748" y="763" width="6" height="63" fill="#cc3333"/>
<rect x="756" y="768" width="6" height="58" fill="#cc3333"/>
<rect x="764" y="766" width="6" height="60" fill="#cc3333"/>
<rect x="772" y="770" width="6" height="56" fill="#008000"/>
<rect x="780" y="775" width="6" height="51" fill="#cc3333"/>
<rect x="788" y="736" width="6" height="90" fill="#cc3333"/>
<rect x="796" y="751" width="6" height="75" fill="#008000"/>
<rect x="804" y="717" width="6" height="109" fill="#008000"/>
<rect x="812" y="726" width="6" height="100" fill="#008000"/>
<rect x="820" y="725" width="6" height="101" fill="#008000"/>
<rect x="828" y="738" width="6" height="88" fill="#cc3333"/>
<rect x="836" y="709" width="6" height="117" fill="#008000"/>
<rect x="844" y="694" width="6" height="132" fill="#008000"/>
<rect x="852" y="719" width="6" height="107" fill="#008000"/>
<rect x="860" y="746" width="6" height="80" fill="#cc3333"/>
<rect x="868" y="729" width="6" height="97" fill="#cc3333"/>
<rect x="876" y="753" width="6" height="73" fill="#cc3333"/>
<rect x="884" y="762" width="6" height="64" fill="#008000"/>
<rect x="892" y="764" width="6" height="62" fill="#cc3333"/>
<rect x="900" y="749" width="6" height="77" fill="#008000"/>
<rect x="908" y="765" width="6" height="61" fill="#008000"/>
<rect x="916" y="730" width="6" height="96" fill="#cc3333"/>
<rect x="924" y="763" width="6" height="63" fill="#cc3333"/>
<rect x="932" y="721" width="6" height="105" fill="#008000"/>
<rect x="940" y="709" width="6" height="117" fill="#008000"/>
<rect x="948" y="724" width="6" height="102" fill="#cc3333"/>
<rect x="956" y="742" width="6" height="84" fill="#008000"/>
<rect x="964" y="736" width="6" height="90" fill="#cc3333"/>
<rect x="972" y="771" width="6" height="55" fill="#008000"/>
<rect x="980" y="774" width="6" height="52" fill="#008000"/>
<rect x="988" y="776" width="6" height="50" fill="#008000"/>
<rect x="996" y="753" width="6" height="73" fill="#008000"/>
<rect x="1004" y="759" width="6" height="67" fill="#008000"/>
<rect x="1012" y="768" width="6" height="58" fill="#008000"/>
<rect x="1020" y="724" width="6" height="102" fill="#cc3333"/>
<rect x="1028" y="753" width="6" height="73" fill="#008000"/>
<rect x="1036" y="710" width="6" height="116" fill="#008000"/>
<rect x="1044" y="715" width="6" height="111" fill="#008000"/>
<rect x="1052" y="721" width="6" height="105" fill="#008000"/>
<rect x="1060" y="751" width="6" height="75" fill="#cc3333"/>
<rect x="1068" y="744" width="6" height="82" fill="#cc3333"/>
<rect x="1076" y="796" width="6" height="30" fill="#cc3333"/>
</g>
<polyline points="-0.5,724 7.0,726 15.0,729 23.0,729 31.0,728 39.0,725 47.0,725 55.0,726 63.0,727 71.0,727 79.0,731 87.0,735 95.0,739 103.0,741 111.0,741 119.0,741 127.0,739 135.0,738 143.0,738 151.0,738 159.0,738 167.0,737 175.0,739 183.0,740 191.0,744 199.0,745 207.0,746 215.0,747 223.0,746 231.0,748 239.0,748 247.0,749 255.0,749 263.0,751 271.0,753 279.0,754 287.0,758 295.0,761 303.0,760 311.0,759 319.0,759 327.0,757 335.0,752 343.0,747 351.0,743 359.0,743 367.0,740 375.0,736 383.0,735 391.0,735 399.0,735 407.0,735 415.0,735 423.0,736 431.0,735 439.0,735 447.0,735 455.0,735 463.0,736 471.0,737 479.0,737 487.0,738 495.0,742 503.0,747 511.0,748 519.0,748 527.0,750 535.0,755 543.0,757 551.0,757 559.0,757 567.0,756 575.0,757 583.0,757 591.0,758 599.0,758 607.0,757 615.0,752 623.0,754 631.0,753 639.0,752 647.0,752 655.0,752 663.0,752 671.0,752 679.0,755 687.0,756 695.0,756 703.0,755 711.0,756 719.0,756 727.0,757 735.0,757 743.0,758 751.0,757 759.0,758 767.0,759 775.0,764 783.0,764 791.0,764 799.0,764 807.0,762 815.0,760 823.0,758 831.0,757 839.0,754 847.0,750 855.0,748 863.0,747 871.0,745 879.0,745 887.0,745 895.0,744 903.0,743 911.0,743 919.0,741 927.0,741 935.0,739 943.0,735 951.0,735 959.0,734 967.0,735 975.0,737 983.0,740 991.0,742 999.0,744 1007.0,747 1015.0,750 1023.0,749 1031.0,750 1039.0,748 1047.0,745 1055.0,743 1063.0,743 1071.0,742 1079.0,745" fill="none" stroke="#000080" stroke-width="2.3" stroke-linejoin="round" shape-rendering="crispEdges"/>
<text x="1127" y="698.2" font-family="'Liberation Sans', Arial, sans-serif" font-size="13" fill="#000000">40000K</text>
<text x="1127" y="731.0" font-family="'Liberation Sans', Arial, sans-serif" font-size="13" fill="#000000">30000K</text>
<text x="1127" y="763.8" font-family="'Liberation Sans', Arial, sans-serif" font-size="13" fill="#000000">20000K</text>
<text x="1127" y="795.8" font-family="'Liberation Sans', Arial, sans-serif" font-size="13" fill="#000000">10000K</text>
<text x="1127" y="829.4" font-family="'Liberation Sans', Arial, sans-serif" font-size="13" fill="#000000">0</text>
<rect x="1124" y="737" width="54" height="15" fill="#000080" shape-rendering="crispEdges"/>
<text x="1127" y="749.7" font-family="'Liberation Sans', Arial, sans-serif" font-size="13" fill="#ffffff">24017K</text>
<rect x="1124" y="788" width="54" height="16" fill="#008000" shape-rendering="crispEdges"/>
<text x="1127" y="800.7" font-family="'Liberation Sans', Arial, sans-serif" font-size="13" fill="#ffffff">8819K</text>
<text x="50.4" y="856.3" text-anchor="middle" font-family="'Liberation Sans', Arial, sans-serif" font-size="13" fill="#000000">Dec</text>
<text x="216.5" y="856.3" text-anchor="middle" font-family="'Liberation Sans', Arial, sans-serif" font-size="13" fill="#000000">Jan</text>
<text x="378" y="856.3" text-anchor="middle" font-family="'Liberation Sans', Arial, sans-serif" font-size="13" fill="#000000">Feb</text>
<text x="529.8" y="856.3" text-anchor="middle" font-family="'Liberation Sans', Arial, sans-serif" font-size="13" fill="#000000">Mar</text>
<text x="713" y="856.3" text-anchor="middle" font-family="'Liberation Sans', Arial, sans-serif" font-size="13" fill="#000000">Apr</text>
<text x="867.7" y="856.3" text-anchor="middle" font-family="'Liberation Sans', Arial, sans-serif" font-size="13" fill="#000000">May</text>
<text x="1040.4" y="856.3" text-anchor="middle" font-family="'Liberation Sans', Arial, sans-serif" font-size="13" fill="#000000">Jun</text>
<text x="106.9" y="872.3" text-anchor="middle" font-family="'Liberation Sans', Arial, sans-serif" font-size="13" fill="#000000">2016</text>
<text x="666.7" y="872.3" text-anchor="middle" font-family="'Liberation Sans', Arial, sans-serif" font-size="13" fill="#000000">2017</text>
<polygon points="1129.5,853.5 1138,845 1146.5,853.5" fill="#000"/>
<path d="M1132,853 H1144 V861 H1140 V855 H1136 V861 H1132 Z" fill="#000"/>
<path d="M1159,848.9 H1163.9 A5,5 0 0 1 1163.9,858.9 H1157" fill="none" stroke="#000" stroke-width="3.8"/>
<polygon points="1155,849.2 1161.6,844.6 1161.6,853.6" fill="#000"/>
<circle cx="1136" cy="871.3" r="4.8" fill="none" stroke="#000" stroke-width="1.4"/>
<line x1="1139.5" y1="875" x2="1145" y2="880.5" stroke="#000" stroke-width="2.6"/>
<rect x="1133" y="870.6" width="6" height="1.4" fill="#000"/><rect x="1135" y="868.5" width="2" height="5.5" fill="#000"/>
<circle cx="1161" cy="871.3" r="4.8" fill="none" stroke="#000" stroke-width="1.4"/>
<line x1="1164.5" y1="875" x2="1170" y2="880.5" stroke="#000" stroke-width="2.6"/>
<rect x="1158" y="871" width="6" height="1" fill="#000"/>
</svg>
</body></html>
